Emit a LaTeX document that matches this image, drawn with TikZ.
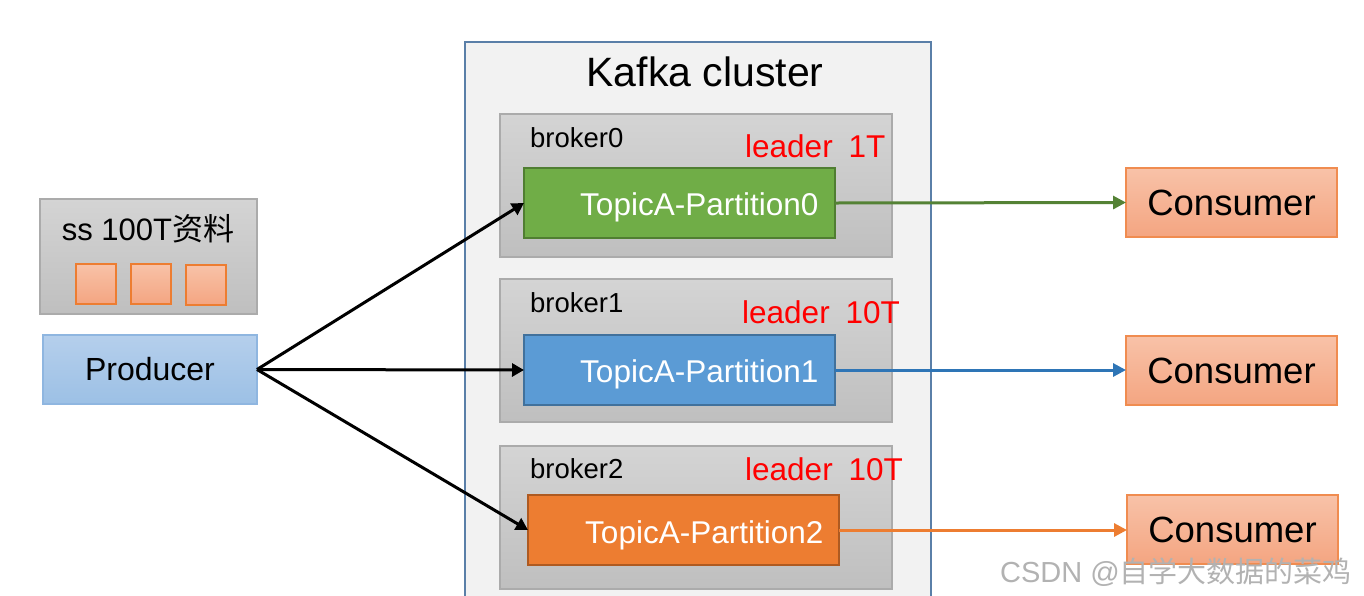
\documentclass[tikz,border=0pt]{standalone}
\usepackage{fontspec}
\setmainfont{Liberation Sans}
\newfontfamily\cjk{Noto Sans CJK SC}
\usetikzlibrary{arrows.meta}
\definecolor{clfill}{HTML}{F2F2F2}
\definecolor{clborder}{HTML}{5A7FA8}
\definecolor{brtop}{HTML}{D4D4D4}
\definecolor{brbot}{HTML}{BFBFBF}
\definecolor{brborder}{HTML}{ABABAB}
\definecolor{pgreen}{HTML}{70AD47}
\definecolor{pgreenb}{HTML}{507E32}
\definecolor{agreen}{HTML}{548235}
\definecolor{pblue}{HTML}{5B9BD5}
\definecolor{pblueb}{HTML}{41719C}
\definecolor{ablue}{HTML}{2E75B6}
\definecolor{porange}{HTML}{ED7D31}
\definecolor{porangeb}{HTML}{AE5A21}
\definecolor{aorange}{HTML}{ED7D31}
\definecolor{ctop}{HTML}{F8C2A8}
\definecolor{cbot}{HTML}{F4A581}
\definecolor{cborder}{HTML}{F08C50}
\definecolor{prtop}{HTML}{B5CFEC}
\definecolor{prbot}{HTML}{9CC0E5}
\definecolor{prborder}{HTML}{8FB6E0}
\definecolor{leaderred}{HTML}{FF0000}
\begin{document}
\begin{tikzpicture}[x=1pt,y=-1pt,
  box/.style={anchor=north west,inner sep=0pt,outer sep=0pt},
  cluster/.style={box,draw=clborder,fill=clfill,line width=1.8pt},
  brokerbox/.style={box,draw=brborder,top color=brtop,bottom color=brbot,line width=1.2pt,minimum width=392pt,minimum height=143pt},
  partbox/.style={box,line width=2pt,minimum width=311pt,minimum height=70pt},
  consbox/.style={box,draw=cborder,top color=ctop,bottom color=cbot,line width=1.3pt,minimum width=211pt,minimum height=69pt,font=\fontsize{36.5}{40}\selectfont},
  sq/.style={box,draw=porange,top color=ctop,bottom color=cbot,line width=1.3pt,minimum width=40pt,minimum height=40pt},
  blabel/.style={anchor=base west,inner sep=0pt,font=\fontsize{27.5}{30}\selectfont},
  leadlabel/.style={anchor=base west,inner sep=0pt,text=leaderred,font=\fontsize{31.5}{34}\selectfont},
  plabel/.style={anchor=base west,inner sep=0pt,text=white,font=\fontsize{31.5}{34}\selectfont},
  parrow/.style={line width=3pt,-{Triangle[length=12pt,width=13pt]}},
  carrow/.style={line width=3pt,-{Triangle[length=13pt,width=13pt]}}
]
\useasboundingbox (0,0) rectangle (1364,595);
\fill[white] (0,0) rectangle (1364,595);

% Kafka cluster
\path[cluster] (465,42) rectangle (931,600);
\node[anchor=base,inner sep=0pt,font=\fontsize{41}{44}\selectfont] (title) at (705,86) {Kafka cluster};

% brokers
\node[brokerbox] (b0) at (500,114) {};
\node[brokerbox] (b1) at (500,279) {};
\node[brokerbox] (b2) at (500,446) {};
\node[blabel] (b0l) at (530,147) {broker0};
\node[blabel] (b1l) at (530,312) {broker1};
\node[blabel] (b2l) at (530,478) {broker2};
\node[leadlabel] (l0) at (745,157) {leader\hspace{16pt}1T};
\node[leadlabel] (l1) at (742,323) {leader\hspace{16pt}10T};
\node[leadlabel] (l2) at (745,480) {leader\hspace{16pt}10T};

% partitions
\node[partbox,draw=pgreenb,fill=pgreen] (p0) at (524,168) {};
\node[partbox,draw=pblueb,fill=pblue] (p1) at (524,335) {};
\node[partbox,draw=porangeb,fill=porange] (p2) at (528,495) {};
\node[plabel] (p0t) at (580,215) {TopicA-Partition0};
\node[plabel] (p1t) at (580,382) {TopicA-Partition1};
\node[plabel] (p2t) at (585,543) {TopicA-Partition2};

% consumers
\node[consbox] (c0) at (1126,168) {Consumer};
\node[consbox] (c1) at (1126,336) {Consumer};
\node[consbox] (c2) at (1127,495) {Consumer};

% data box
\node[box,draw=brborder,top color=brtop,bottom color=brbot,line width=1.2pt,minimum width=217pt,minimum height=115pt] (data) at (40,199) {};
\node[anchor=base,inner sep=0pt,font=\fontsize{31}{34}\selectfont] (datat) at (148,240) {ss 100T{\cjk 资料}};
\node[sq] (s1) at (76,264) {};
\node[sq] (s2) at (131,264) {};
\node[sq] (s3) at (186,265) {};

% producer
\node[box,draw=prborder,top color=prtop,bottom color=prbot,line width=1.2pt,minimum width=214pt,minimum height=69pt,font=\fontsize{32}{35}\selectfont] (prod) at (43,335) {Producer};

% arrows
\draw[parrow] (prod.east) -- (p0.west);
\draw[parrow] (prod.east) -- (p1.west);
\draw[parrow] (prod.east) -- (p2.west);
\draw[carrow,draw=agreen,fill=agreen] (p0.east) -- (c0.west);
\draw[carrow,draw=ablue,fill=ablue] (p1.east) -- (p1.east -| c1.west);
\draw[carrow,draw=aorange,fill=aorange] (p2.east) -- (p2.east -| c2.west);

% watermark
\node[anchor=base west,inner sep=0pt,text=black!30,font=\fontsize{29}{32}\selectfont] (wm) at (1000,582) {CSDN @{\cjk 自学大数据的菜鸡}};
\end{tikzpicture}
\end{document}
